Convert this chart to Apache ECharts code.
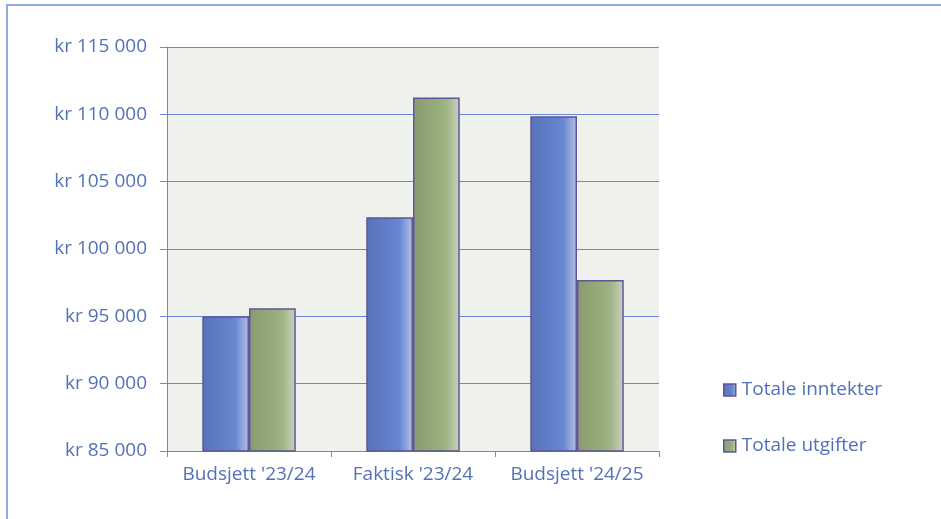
<!DOCTYPE html>
<html>
<head>
<meta charset="utf-8">
<script src="https://cdn.jsdelivr.net/npm/echarts@6/dist/echarts.min.js"></script>
<style>
  html, body { margin: 0; padding: 0; background: #fff; }
  #chart { width: 941px; height: 519px; }
</style>
</head>
<body>
<div id="chart"></div>
<script>
const categories = ["Budsjett '23/24", "Faktisk '23/24", "Budsjett '24/25"]
const inntekter = [95000, 102350, 109850]
const utgifter = [95600, 111250, 97700]
const seriesNames = ['Totale inntekter', 'Totale utgifter']

const textColor = '#5271b9'
const lineColor = '#6a88d6'
const barBorder = '#5f5597'

const fmtKr = v => 'kr ' + String(v).replace(/\B(?=(\d{3})+(?!\d))/g, ' ')

const grad = stops => new echarts.graphic.LinearGradient(0, 0, 1, 0,
  stops.map(s => ({ offset: s[0], color: s[1] })))

const blue = grad([[0, '#5872b8'], [0.55, '#6382cc'], [0.72, '#6a88d2'], [1, '#b4c1e5']])
const green = grad([[0, '#899b6e'], [0.55, '#97ad7c'], [0.72, '#a0b585'], [1, '#cad2bf']])

const chart = echarts.init(document.getElementById('chart'))
chart.setOption({
  animation: false,
  textStyle: { fontFamily: 'Open Sans' },
  graphic: [{
    type: 'rect',
    shape: { x: 7, y: 5, width: 1200, height: 1200 },
    style: { fill: 'none', stroke: '#8eaadf', lineWidth: 2 },
    silent: true
  }],
  grid: {
    left: 167, top: 47, right: 282, bottom: 68,
    show: true, backgroundColor: '#eff1ec', borderWidth: 0
  },
  legend: {
    orient: 'vertical',
    left: 718, top: 374,
    itemWidth: 12, itemHeight: 12, itemGap: 34,
    icon: 'rect',
    itemStyle: { borderColor: barBorder, borderWidth: 1.5 },
    textStyle: { color: textColor, fontSize: 19, lineHeight: 22, padding: [0, 0, 0, 1] },
    data: seriesNames
  },
  xAxis: {
    type: 'category',
    data: categories,
    axisLine: { lineStyle: { color: lineColor, width: 1 } },
    axisTick: { show: true, interval: 0, length: 6, lineStyle: { color: lineColor } },
    axisLabel: { color: textColor, fontSize: 19, margin: 14, interval: 0, hideOverlap: false }
  },
  yAxis: {
    type: 'value',
    min: 85000, max: 115000, interval: 5000,
    axisLine: { show: true, lineStyle: { color: lineColor, width: 1 } },
    axisTick: { show: true, length: 7, lineStyle: { color: lineColor } },
    axisLabel: { color: textColor, fontSize: 19, margin: 20, formatter: fmtKr },
    splitLine: { lineStyle: { color: lineColor, width: 1 } }
  },
  series: [
    {
      name: seriesNames[0], type: 'bar', data: inntekter,
      barGap: '0%', barCategoryGap: '43%',
      itemStyle: { color: blue, borderColor: barBorder, borderWidth: 1.5 }
    },
    {
      name: seriesNames[1], type: 'bar', data: utgifter,
      barGap: '0%', barCategoryGap: '43%',
      itemStyle: { color: green, borderColor: barBorder, borderWidth: 1.5 }
    }
  ]
})
</script>
</body>
</html>
